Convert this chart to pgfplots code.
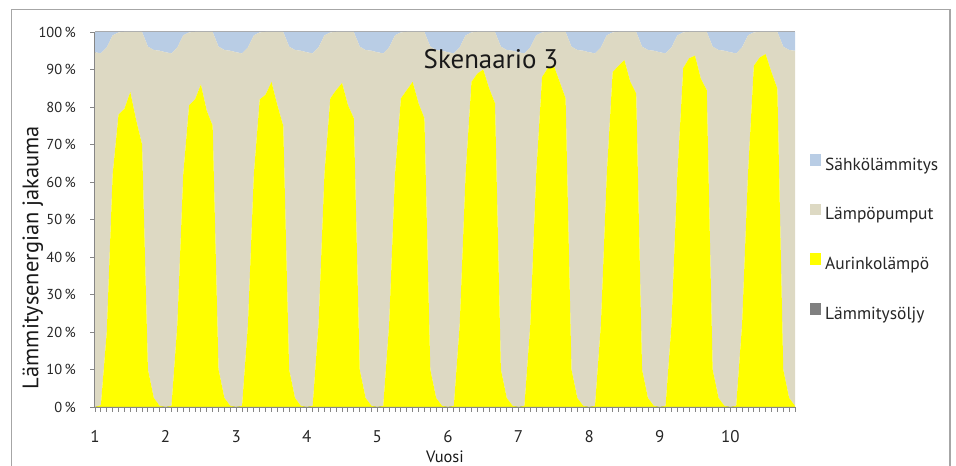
\documentclass[border=0pt]{standalone}
\usepackage{fontspec}
\setmainfont{PT Sans}
\usepackage{pgfplots}
\pgfplotsset{compat=1.18}
\usepackage{pgfplotstable}

\definecolor{elec}{HTML}{B9CDE5}
\definecolor{pump}{HTML}{DDD9C3}
\definecolor{sun}{HTML}{FFFF00}
\definecolor{oil}{HTML}{808080}
\definecolor{axisgray}{HTML}{868686}
\definecolor{framegray}{HTML}{A6A6A6}

% Monthly shares (%) of heating energy, ten years, month index i = 0..119
\pgfplotstableread{
i oil sun pump elec
0 0 0 94.6 5.4
1 0 0.5 93.8 5.7
2 0 20 75.9 4.1
3 0 62 37.1 0.9
4 0 78 21.9 0.1
5 0 79.5 20.5 0
6 0 84 16 0
7 0 76.5 23.5 0
8 0 70 30 0
9 0 10 86.1 3.9
10 0 2.4 92.8 4.8
11 0 0.3 94.7 5.0
12 0 0 94.6 5.4
13 0 0.3 94.0 5.7
14 0 22 73.9 4.1
15 0 62 37.1 0.9
16 0 80.5 19.4 0.1
17 0 82 18 0
18 0 86 14 0
19 0 79 21 0
20 0 75 25 0
21 0 10 86.1 3.9
22 0 2.4 92.8 4.8
23 0 0.3 94.7 5.0
24 0 0 94.6 5.4
25 0 0.3 94.0 5.7
26 0 22 73.9 4.1
27 0 62 37.1 0.9
28 0 82 17.9 0.1
29 0 83.3 16.7 0
30 0 86.7 13.3 0
31 0 80.5 19.5 0
32 0 75 25 0
33 0 10 86.1 3.9
34 0 2.4 92.8 4.8
35 0 0.3 94.7 5.0
36 0 0 94.6 5.4
37 0 0.3 94.0 5.7
38 0 22 73.9 4.1
39 0 62 37.1 0.9
40 0 82.3 17.6 0.1
41 0 84.5 15.5 0
42 0 86.4 13.6 0
43 0 80.5 19.5 0
44 0 77 23 0
45 0 10 86.1 3.9
46 0 2.4 92.8 4.8
47 0 0.3 94.7 5.0
48 0 0 94.6 5.4
49 0 0.3 94.0 5.7
50 0 22 73.9 4.1
51 0 62 37.1 0.9
52 0 82.3 17.6 0.1
53 0 84.5 15.5 0
54 0 86.7 13.3 0
55 0 81 19 0
56 0 77 23 0
57 0 10 86.1 3.9
58 0 2.4 92.8 4.8
59 0 0.3 94.7 5.0
60 0 0 94.6 5.4
61 0 0.3 94.0 5.7
62 0 22 73.9 4.1
63 0 62 37.1 0.9
64 0 86.7 13.2 0.1
65 0 88.9 11.1 0
66 0 90 10 0
67 0 85 15 0
68 0 81 19 0
69 0 10 86.1 3.9
70 0 2.4 92.8 4.8
71 0 0.3 94.7 5.0
72 0 0 94.6 5.4
73 0 0.3 94.0 5.7
74 0 22 73.9 4.1
75 0 62 37.1 0.9
76 0 88 11.9 0.1
77 0 90.4 9.6 0
78 0 91 9 0
79 0 86.7 13.3 0
80 0 82.3 17.7 0
81 0 10 86.1 3.9
82 0 2.4 92.8 4.8
83 0 0.3 94.7 5.0
84 0 0 94.6 5.4
85 0 0.3 94.0 5.7
86 0 22 73.9 4.1
87 0 62 37.1 0.9
88 0 89.3 10.6 0.1
89 0 91 9 0
90 0 92.5 7.5 0
91 0 86.7 13.3 0
92 0 83.6 16.4 0
93 0 10 86.1 3.9
94 0 2.4 92.8 4.8
95 0 0.3 94.7 5.0
96 0 0 94.6 5.4
97 0 0.3 94.0 5.7
98 0 22 73.9 4.1
99 0 62 37.1 0.9
100 0 90.4 9.5 0.1
101 0 93 7 0
102 0 93.7 6.3 0
103 0 87.5 12.5 0
104 0 84.5 15.5 0
105 0 10 86.1 3.9
106 0 2.4 92.8 4.8
107 0 0.3 94.7 5.0
108 0 0 94.6 5.4
109 0 0.3 94.0 5.7
110 0 22 73.9 4.1
111 0 62 37.1 0.9
112 0 91 8.9 0.1
113 0 93.2 6.8 0
114 0 94.1 5.9 0
115 0 89.3 10.7 0
116 0 84.9 15.1 0
117 0 10 86.1 3.9
118 0 2.4 92.8 4.8
119 0 0.3 94.7 5.0
}\energy

\begin{document}
\begin{tikzpicture}[x=1bp,y=1bp]
\useasboundingbox (0,0) rectangle (956,466);
% chart area frame
\draw[framegray, line width=1.2bp] (11.7,-5) -- (11.7,456.5) -- (950,456.5) -- (950,-5);

\begin{axis}[
  at={(95bp,59bp)}, anchor=south west,
  scale only axis, width=700bp, height=375bp,
  xmin=0, xmax=119, ymin=0, ymax=100,
  stack plots=y,
  axis x line*=bottom, axis y line*=left,
  axis line style={axisgray, line width=1.5bp},
  tick align=outside,
  major tick length=5bp, minor tick length=5bp,
  tick style={axisgray, line width=0.9bp},
  xtick={0,12,24,36,48,60,72,84,96,108},
  xticklabels={1,2,3,4,5,6,7,8,9,10},
  minor xtick={0,1,...,119},
  ytick={0,10,20,30,40,50,60,70,80,90,100},
  yticklabels={0\,\%,10\,\%,20\,\%,30\,\%,40\,\%,50\,\%,60\,\%,70\,\%,80\,\%,90\,\%,100\,\%},
  yticklabel style={font=\fontsize{14.5}{16}\selectfont, text=black!85, inner sep=0pt, anchor=east, xshift=-14bp},
  xticklabel style={font=\fontsize{17}{18}\selectfont, text=black!85, inner sep=0pt, anchor=base, yshift=-30.5bp},
  reverse legend,
  legend style={
    at={(1.0214,0.6755)}, anchor=north west,
    draw=none, fill=none, inner sep=0pt,
    font=\fontsize{17.5}{19}\selectfont,
    nodes={inner sep=0pt, text height=13bp, text depth=4bp, text=black!85},
    column sep=4bp, row sep=29.5bp,
  },
  legend cell align=left,
  legend image code/.code={\fill[#1] (0bp,0bp) rectangle (11bp,11.7bp);},
]
\addplot[draw=none, fill=oil] table[x=i, y=oil] {\energy} \closedcycle;
\addlegendentry{Lämmitysöljy}
\addplot[draw=none, fill=sun] table[x=i, y=sun] {\energy} \closedcycle;
\addlegendentry{Aurinkolämpö}
\addplot[draw=none, fill=pump] table[x=i, y=pump] {\energy} \closedcycle;
\addlegendentry{Lämpöpumput}
\addplot[draw=none, fill=elec] table[x=i, y=elec] {\energy} \closedcycle;
\addlegendentry{Sähkölämmitys}
\draw[framegray, line width=1bp] (rel axis cs:0,1) -- (rel axis cs:1,1);
\end{axis}

\node[anchor=base, font=\fontsize{27}{30}\selectfont, text=black!90] at (491,397.7) {Skenaario 3};
\node[anchor=base, rotate=90, font=\fontsize{22.5}{25}\selectfont, text=black!90] at (38.3,208.5) {Lämmitysenergian jakauma};
\node[anchor=base, font=\fontsize{16.5}{18}\selectfont, text=black!90] at (445,3.3) {Vuosi};
\end{tikzpicture}
\end{document}
